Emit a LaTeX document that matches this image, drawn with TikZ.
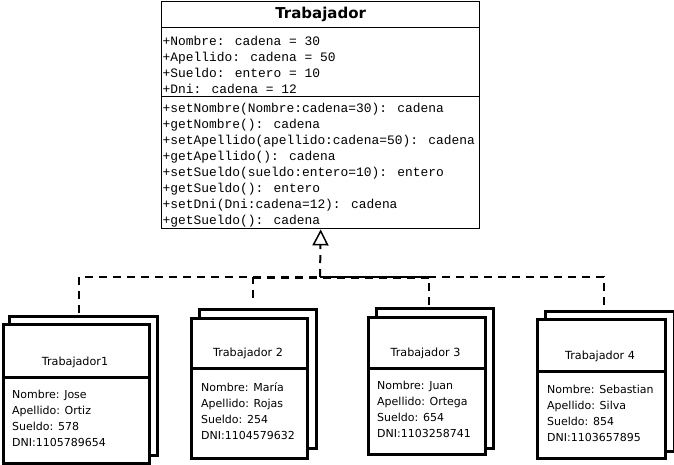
\documentclass[tikz,border=0pt]{standalone}
\usepackage{fontspec}
\setmainfont{DejaVu Sans}
\newfontfamily\umlmono{Liberation Mono}
\usetikzlibrary{arrows.meta}
\begin{document}
\begin{tikzpicture}[x=1pt,y=-1pt,
  cls/.style={draw,line width=1.4pt,fill=white,anchor=north west,inner sep=0pt},
  monotext/.style={font=\umlmono\fontsize{12.9}{16}\selectfont,align=left,anchor=north west,inner sep=0pt},
  stackbox/.style={draw,line width=3pt,fill=white,anchor=north west,inner sep=0pt},
  objtitle/.style={font=\fontsize{11.2}{13}\selectfont,inner sep=0pt},
  objbody/.style={font=\fontsize{11}{16}\selectfont,align=left,anchor=north west,inner sep=0pt},
  conn/.style={line width=2pt,dash pattern=on 8pt off 6pt},
  heavyconn/.style={line width=3pt,dash pattern=on 8pt off 6pt}
]
\useasboundingbox[fill=white] (0,0) rectangle (674,464);

% main class
\node[cls,minimum width=318pt,minimum height=27pt,font=\bfseries\fontsize{15}{17}\selectfont] (title) at (161,0.7) {Trabajador};
\node[cls,minimum width=318pt,minimum height=69pt] (attr) at (161,27) {};
\node[cls,minimum width=318pt,minimum height=132pt] (meth) at (161,96) {};
\node[monotext] (attrtext) at (162.5,35.5) {+Nombre: cadena = 30\\+Apellido: cadena = 50\\+Sueldo: entero = 10\\+Dni: cadena = 12};
\node[monotext] (methtext) at (162.5,102.5) {+setNombre(Nombre:cadena=30): cadena\\+getNombre(): cadena\\+setApellido(apellido:cadena=50): cadena\\+getApellido(): cadena\\+setSueldo(sueldo:entero=10): entero\\+getSueldo(): entero\\+setDni(Dni:cadena=12): cadena\\+getSueldo(): cadena};

% object 1
\node[stackbox,minimum width=148pt,minimum height=139pt] (b1) at (8,315) {};
\node[stackbox,minimum width=146pt,minimum height=53pt] (f1) at (2,323) {};
\node[stackbox,minimum width=146pt,minimum height=86pt] (g1) at (2,376) {};
\node[objtitle] (n1) at (75,362) {Trabajador1};
\node[objbody] (d1) at (12,389.5) {Nombre: Jose\\Apellido: Ortiz\\Sueldo: 578\\DNI:1105789654};

% object 2
\node[stackbox,minimum width=117pt,minimum height=139pt] (b2) at (198,308) {};
\node[stackbox,minimum width=116pt,minimum height=50pt] (f2) at (190,317) {};
\node[stackbox,minimum width=116pt,minimum height=90pt] (g2) at (190,367) {};
\node[objtitle] (n2) at (248,353) {Trabajador 2};
\node[objbody] (d2) at (201,382.5) {Nombre: María\\Apellido: Rojas\\Sueldo: 254\\DNI:1104579632};

% object 3
\node[stackbox,minimum width=117pt,minimum height=140pt] (b3) at (375,307) {};
\node[stackbox,minimum width=117pt,minimum height=51pt] (f3) at (367,316) {};
\node[stackbox,minimum width=117pt,minimum height=86pt] (g3) at (367,367) {};
\node[objtitle] (n3) at (425.5,353) {Trabajador 3};
\node[objbody] (d3) at (377,380.5) {Nombre: Juan\\Apellido: Ortega\\Sueldo: 654\\DNI:1103258741};

% object 4
\node[stackbox,minimum width=129pt,minimum height=140pt] (b4) at (544,310) {};
\node[stackbox,minimum width=128pt,minimum height=52pt] (f4) at (536,318) {};
\node[stackbox,minimum width=128pt,minimum height=87pt] (g4) at (536,370) {};
\node[objtitle] (n4) at (600,356) {Trabajador 4};
\node[objbody] (d4) at (547,384.5) {Nombre: Sebastian\\Apellido: Silva\\Sueldo: 854\\DNI:1103657895};

% connectors
\coordinate (j) at (320,277);
\coordinate (c1) at (79,313);
\coordinate (c2) at (253,298);
\coordinate (c3) at (429,305);
\coordinate (c4) at (604,305);
\draw[conn] (c1) |- (j);
\draw[conn] (c2) -- (c2 |- j);
\draw[conn] (c3) -- (c3 |- j);
\draw[conn] (c4) |- (j);
\draw[heavyconn] (c2 |- j) -- (c3 |- j);
\draw[conn,-{Triangle[open,length=16pt,width=16pt,line width=1.5pt]}] (j) -- (meth.south);
\end{tikzpicture}
\end{document}
